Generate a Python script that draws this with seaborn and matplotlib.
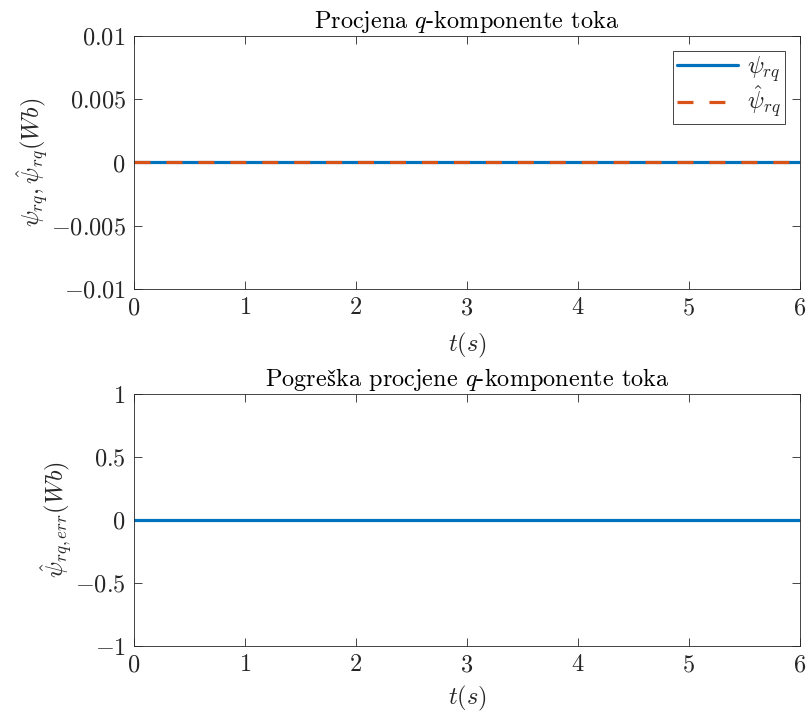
import matplotlib
matplotlib.use("Agg")
import matplotlib.pyplot as plt
import seaborn as sns
import pandas as pd

sns.set_theme(style="white")
plt.rcParams['font.family'] = ['cmr10', 'DejaVu Serif']
plt.rcParams['mathtext.fontset'] = 'cm'
plt.rcParams['axes.unicode_minus'] = False

# data (all estimates are flat zero)
time = [0, 1, 2, 3, 4, 5, 6]
psi_rq = [0, 0, 0, 0, 0, 0, 0]
psi_rq_hat = [0, 0, 0, 0, 0, 0, 0]
psi_rq_err = [0, 0, 0, 0, 0, 0, 0]

x_ticks = [0, 1, 2, 3, 4, 5, 6]
top_yticks = [-0.01, -0.005, 0, 0.005, 0.01]
top_ylabels = ["$-0.01$", "$-0.005$", "$0$", "$0.005$", "$0.01$"]
bot_yticks = [-1, -0.5, 0, 0.5, 1]
bot_ylabels = ["$-1$", "$-0.5$", "$0$", "$0.5$", "$1$"]

blue = "#0072BD"
orange = "#D95319"
axcol = "#262626"
fs = 17.5

df = pd.DataFrame({"t": time, "psi": psi_rq, "psi_hat": psi_rq_hat, "err": psi_rq_err})

fig = plt.figure(figsize=(8.08, 7.15), dpi=100)
ax1 = fig.add_axes([0.1658, 0.5958, 0.8242, 0.3539])
ax2 = fig.add_axes([0.1658, 0.0965, 0.8242, 0.3525])

sns.lineplot(data=df, x="t", y="psi", ax=ax1, color=blue, lw=2.3, label=r"$\psi_{rq}$")
sns.lineplot(data=df, x="t", y="psi_hat", ax=ax1, color=orange, lw=2.3,
             linestyle=(0, (5, 5)), label=r"$\hat{\psi}_{rq}$")
sns.lineplot(data=df, x="t", y="err", ax=ax2, color=blue, lw=2.3)

def style(ax, yticks, ylabels, title, ylabel, xpad):
    ax.set_xlim(0, 6)
    ax.set_ylim(yticks[0], yticks[-1])
    ax.set_xticks(x_ticks)
    ax.set_xticklabels([f"${v}$" for v in x_ticks], fontsize=fs)
    ax.set_yticks(yticks)
    ax.set_yticklabels(ylabels, fontsize=fs)
    ax.tick_params(direction="in", length=6, width=0.6, color=axcol, labelcolor=axcol,
                   top=True, right=True, bottom=True, left=True, pad=6)
    for s in ax.spines.values():
        s.set_visible(True)
        s.set_color(axcol)
        s.set_linewidth(0.6)
    ax.set_title(title, fontsize=fs, color="black", pad=6)
    ax.set_xlabel("$t(s)$", fontsize=fs, color=axcol, labelpad=xpad)
    ax.set_ylabel(ylabel, fontsize=fs, color=axcol, labelpad=0)

style(ax1, top_yticks, top_ylabels, "Procjena $q$-komponente toka",
      r"$\psi_{rq},\hat{\psi}_{rq}(Wb)$", 8)
style(ax2, bot_yticks, bot_ylabels, "$\\mathrm{Pogreška}$ procjene $q$-komponente toka",
      r"$\hat{\psi}_{rq,err}(Wb)$", 5)

leg = ax1.legend(loc="upper right", fontsize=fs, frameon=True, fancybox=False,
                 framealpha=1, edgecolor=axcol, handlelength=2.5, handletextpad=0.4,
                 borderpad=0.15, labelspacing=0.0, borderaxespad=0.6)
leg.get_frame().set_linewidth(0.6)

fig.savefig("out.png", dpi=100)
